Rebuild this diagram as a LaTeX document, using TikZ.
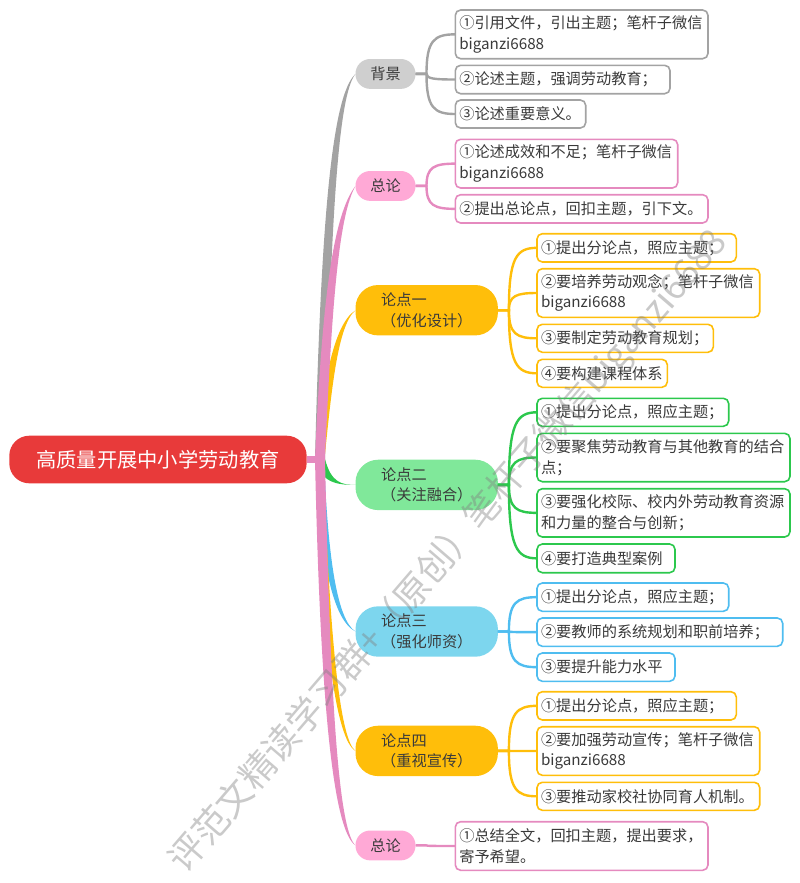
\documentclass[tikz,border=0pt]{standalone}
\usepackage{fontspec}
\setmainfont{Noto Sans CJK SC}
\usetikzlibrary{calc}
\definecolor{txt}{HTML}{3A3A3A}
\definecolor{cgray}{HTML}{A3A3A3}\definecolor{fgray}{HTML}{CFCFCF}
\definecolor{cpink}{HTML}{E58ABF}\definecolor{fpink}{HTML}{FFA9D6}
\definecolor{cgold}{HTML}{FFBE0A}\definecolor{fgold}{HTML}{FFBE0A}
\definecolor{cgreen}{HTML}{2CC84D}\definecolor{fgreen}{HTML}{80E89A}
\definecolor{cblue}{HTML}{4FBDF0}\definecolor{fblue}{HTML}{7DD6EE}
\definecolor{croot}{HTML}{E83A3A}
\tikzset{
  base/.style={anchor=north west,outer sep=0pt,inner ysep=0pt,text=txt,
    font=\fontsize{11.4pt}{15.5pt}\selectfont},
  leafbox/.style={base,align=left,fill=white,line width=1.2pt,rounded corners=4pt},
  topicbox/.style={base,align=center,rounded corners=11pt,inner xsep=0pt,text width=45pt,minimum height=22.4pt},
  pointbox/.style={base,align=left,rounded corners=17pt,inner xsep=0pt,text width=106.8pt,minimum height=37.8pt},
  rootbox/.style={base,align=center,fill=croot,text=white,rounded corners=15pt,inner xsep=0pt,
    text width=223pt,minimum height=35.7pt,font=\fontsize{15.2pt}{18pt}\selectfont},
  link/.style={line width=1.8pt},
  mark text/.style={font=\fontsize{27pt}{30pt}\selectfont,text=gray,opacity=.42,rotate=49.3}
}
\newcommand\indt{\hspace*{19.3pt}}
% name, colour, x0, y0, x1, y1, text
\newcommand\leafnode[7]{%
  \pgfmathsetmacro\wdt{(#5-#3)*0.75-6}\pgfmathsetmacro\htt{(#6-#4)*0.75}%
  \node[leafbox,draw=#2,inner xsep=3pt,text width=\wdt pt,minimum height=\htt pt] (#1) at (#3,#4) {#7};}
\newcommand\kid[3]{\draw[link,draw=#1] let \p1=(#2.east),\p2=(#3.west) in
  (\p1) -- (\x1+8.25pt,\y1) .. controls (\x1+8.25pt,{\y1+0.85*(\y2-\y1)}) and (\x1+14pt,\y2) .. (\p2);}
% colour, node, c1x, c1y, c2x, c2y, half width
\newcommand\taper[7]{\fill[#1] ($(hub)+({-#7},0)$) .. controls ({#3-#7},#4) and ({#5-0.6*#7},#6) .. (#2.west)
  .. controls ({#5+0.6*#7},#6) and ({#3+#7},#4) .. ($(hub)+(#7,0)$) -- cycle;}
\begin{document}
\begin{tikzpicture}[x=0.75pt,y=-0.75pt]
\useasboundingbox (0,0) rectangle (800,883);
\coordinate (hub) at (320,459);

% first level nodes
\node[topicbox,fill=fgray] (bg) at (355.5,59) {背景};
\node[topicbox,fill=fpink] (za) at (355.5,171) {总论};
\node[topicbox,fill=fpink] (zb) at (355.5,830.5) {总论};
\node[pointbox,fill=fgold] (la) at (355.5,285) {\indt 论点一\\\indt （优化设计）};
\node[pointbox,fill=fgreen] (lb) at (355.5,459.7) {\indt 论点二\\\indt （关注融合）};
\node[pointbox,fill=fblue] (lc) at (355.5,606.3) {\indt 论点三\\\indt （强化师资）};
\node[pointbox,fill=fgold] (ld) at (355.5,725.7) {\indt 论点四\\\indt （重视宣传）};
\node[rootbox] (root) at (9.3,435.7) {高质量开展中小学劳动教育};

% second level nodes
\leafnode{ba}{cgray}{455.3}{10}{708}{58.7}{①引用文件，引出主题；笔杆子微信\\biganzi6688}
\leafnode{bb}{cgray}{455.3}{65.3}{670}{93.7}{②论述主题，强调劳动教育；}
\leafnode{bc}{cgray}{455.3}{100}{585.7}{128}{③论述重要意义。}
\leafnode{zaa}{cpink}{455.3}{139.3}{677.7}{188}{①论述成效和不足；笔杆子微信\\biganzi6688}
\leafnode{zab}{cpink}{455.3}{194.7}{708}{223}{②提出总论点，回扣主题，引下文。}
\leafnode{laa}{cgold}{537}{233.7}{736.3}{262}{①提出分论点，照应主题；}
\leafnode{lab}{cgold}{537}{268.7}{759.7}{317.3}{②要培养劳动观念；笔杆子微信\\biganzi6688}
\leafnode{lac}{cgold}{537}{324.3}{713.3}{352.3}{③要制定劳动教育规划；}
\leafnode{lad}{cgold}{537}{359.3}{667.3}{387.3}{④要构建课程体系}
\leafnode{lba}{cgreen}{537}{398.3}{728.7}{426.3}{①提出分论点，照应主题；}
\leafnode{lbb}{cgreen}{537}{433.3}{790}{481.7}{②要聚焦劳动教育与其他教育的结合\\点；}
\leafnode{lbc}{cgreen}{537}{488.7}{790}{537}{③要强化校际、校内外劳动教育资源\\和力量的整合与创新；}
\leafnode{lbd}{cgreen}{537}{544}{675}{572.7}{④要打造典型案例}
\leafnode{lca}{cblue}{537}{583}{728.7}{611.3}{①提出分论点，照应主题；}
\leafnode{lcb}{cblue}{537}{618}{782.7}{646.3}{②要教师的系统规划和职前培养；}
\leafnode{lcc}{cblue}{537}{653}{675}{681.3}{③要提升能力水平}
\leafnode{lda}{cgold}{537}{691.7}{736.3}{720}{①提出分论点，照应主题；}
\leafnode{ldb}{cgold}{537}{726.7}{759.7}{775.3}{②要加强劳动宣传；笔杆子微信\\biganzi6688}
\leafnode{ldc}{cgold}{537}{782.3}{759.7}{810.3}{③要推动家校社协同育人机制。}
\leafnode{zba}{cpink}{455.3}{821.7}{708}{870.3}{①总结全文，回扣主题，提出要求，\\寄予希望。}

% child connectors
\kid{cgray}{bg}{ba}\kid{cgray}{bg}{bb}\kid{cgray}{bg}{bc}
\kid{cpink}{za}{zaa}\kid{cpink}{za}{zab}
\kid{cgold}{la}{laa}\kid{cgold}{la}{lab}\kid{cgold}{la}{lac}\kid{cgold}{la}{lad}
\kid{cgreen}{lb}{lba}\kid{cgreen}{lb}{lbb}\kid{cgreen}{lb}{lbc}\kid{cgreen}{lb}{lbd}
\kid{cblue}{lc}{lca}\kid{cblue}{lc}{lcb}\kid{cblue}{lc}{lcc}
\kid{cgold}{ld}{lda}\kid{cgold}{ld}{ldb}\kid{cgold}{ld}{ldc}
\kid{cpink}{zb}{zba}

% trunk branches
\taper{cgray}{bg}{326}{220}{335}{95}{5}
\taper{cgold}{la}{327}{390}{335}{325}{4.5}
\taper{cgreen}{lb}{326}{482}{338}{485}{5}
\taper{cblue}{lc}{324}{560}{335}{620}{4}
\taper{cgold}{ld}{326}{640}{338}{740}{3.5}
\taper{cpink}{za}{327}{300}{336}{215}{5}
\taper{cpink}{zb}{325}{690}{335}{830}{5}
\fill[cpink] (root.east) ++(0,-4) rectangle ($(hub)+(0,4)$);

% watermark
\node[mark text] (mark) at (449,552) {评范文精读学习群+（原创）笔杆子微信biganzi6688};
\end{tikzpicture}
\end{document}
